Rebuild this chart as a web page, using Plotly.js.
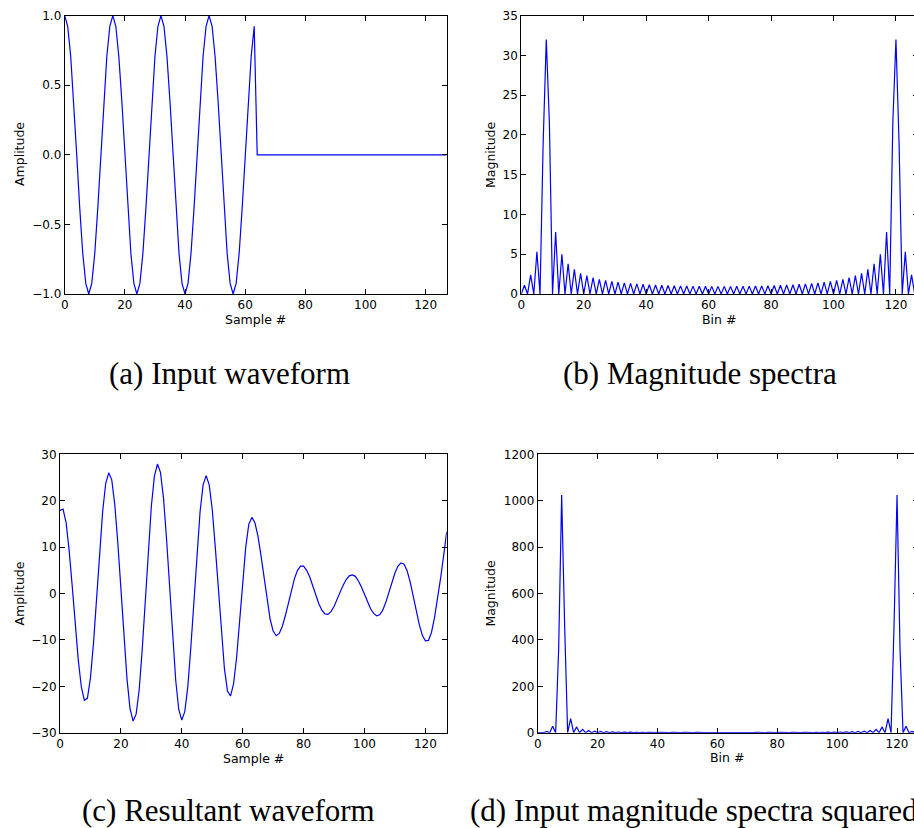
<!DOCTYPE html>
<html>
<head>
<meta charset="utf-8">
<script src="https://cdn.plot.ly/plotly-3.0.1.min.js"></script>
<style>
html,body{margin:0;padding:0;overflow:hidden;background:#fff;}
#chart{width:930px;height:828px;}
</style>
</head>
<body>
<div id="chart"></div>
<script>
// ---- data ----
const sampleIndex = Array.from({length: 128}, (_, i) => i);

const inputWaveform = [
 1, 0.924, 0.707, 0.383, 0, -0.383, -0.707, -0.924, -1, -0.924, -0.707, -0.383, 0, 0.383, 0.707, 0.924,
 1, 0.924, 0.707, 0.383, 0, -0.383, -0.707, -0.924, -1, -0.924, -0.707, -0.383, 0, 0.383, 0.707, 0.924,
 1, 0.924, 0.707, 0.383, 0, -0.383, -0.707, -0.924, -1, -0.924, -0.707, -0.383, 0, 0.383, 0.707, 0.924,
 1, 0.924, 0.707, 0.383, 0, -0.383, -0.707, -0.924, -1, -0.924, -0.707, -0.383, 0, 0.383, 0.707, 0.924,
 0, 0, 0, 0, 0, 0, 0, 0, 0, 0, 0, 0, 0, 0, 0, 0,
 0, 0, 0, 0, 0, 0, 0, 0, 0, 0, 0, 0, 0, 0, 0, 0,
 0, 0, 0, 0, 0, 0, 0, 0, 0, 0, 0, 0, 0, 0, 0, 0,
 0, 0, 0, 0, 0, 0, 0, 0, 0, 0, 0, 0, 0, 0, 0, 0
];

const magnitudeSpectra = [
 0, 1.1, 0, 2.4, 0, 5.3, 0, 19, 32, 21.5, 0, 7.8, 0, 5.0, 0, 3.8,
 0, 3.1, 0, 2.6, 0, 2.3, 0, 2.05, 0, 1.85, 0, 1.7, 0, 1.6, 0, 1.5,
 0, 1.4, 0, 1.33, 0, 1.27, 0, 1.22, 0, 1.17, 0, 1.13, 0, 1.1, 0, 1.07,
 0, 1.04, 0, 1.02, 0, 1.0, 0, 0.99, 0, 0.98, 0, 0.97, 0, 0.96, 0, 0.96,
 0, 0.96, 0, 0.96, 0, 0.97, 0, 0.98, 0, 0.99, 0, 1.0, 0, 1.02, 0, 1.04,
 0, 1.07, 0, 1.1, 0, 1.13, 0, 1.17, 0, 1.22, 0, 1.27, 0, 1.33, 0, 1.4,
 0, 1.5, 0, 1.6, 0, 1.7, 0, 1.85, 0, 2.05, 0, 2.3, 0, 2.6, 0, 3.1,
 0, 3.8, 0, 5.0, 0, 7.8, 0, 21.5, 32, 19, 0, 5.3, 0, 2.4, 0, 1.1
];

const resultantWaveform = [
 17.9, 18.2, 15.3, 9.3, 1.7, -6.7, -14.3, -20.1, -23.0, -22.6, -18.2, -10.7, -1.1, 8.9, 17.6, 23.7,
 26.0, 24.5, 19.1, 10.8, 0.8, -9.4, -18.4, -24.8, -27.5, -26.0, -20.8, -12.1, -1.5, 9.4, 18.8, 25.3,
 27.9, 26.1, 20.5, 11.7, 1.1, -9.6, -18.7, -25.0, -27.3, -25.4, -19.9, -11.3, -1.2, 9.0, 17.6, 23.4,
 25.4, 23.4, 18.1, 10.0, 0.7, -8.6, -16.2, -21.0, -22.1, -19.5, -13.8, -5.9, 2.6, 10.0, 14.9, 16.4,
 15.3, 12.4, 8.2, 3.4, -1.4, -5.5, -8.1, -9.1, -8.6, -7.1, -4.8, -2.1, 0.7, 3.2, 5.0, 5.9,
 5.9, 5.0, 3.6, 1.7, -0.4, -2.2, -3.6, -4.4, -4.5, -3.9, -2.8, -1.4, 0.3, 1.8, 3.0, 3.8,
 4.0, 3.7, 2.7, 1.4, -0.3, -1.9, -3.3, -4.3, -4.8, -4.6, -3.6, -1.9, 0.3, 2.5, 4.4, 5.9,
 6.6, 6.3, 4.9, 2.5, -0.6, -3.8, -6.7, -9.0, -10.2, -10.1, -8.4, -5.2, -1.2, 3.3, 8.2, 13.3
];

const magnitudeSquared = [
 0, 1.21, 0, 5.76, 0, 28.1, 0, 361, 1024, 462, 0, 60.8, 0, 25.0, 0, 14.4,
 0, 9.61, 0, 6.76, 0, 5.29, 0, 4.2, 0, 3.42, 0, 2.89, 0, 2.56, 0, 2.25,
 0, 1.96, 0, 1.77, 0, 1.61, 0, 1.49, 0, 1.37, 0, 1.28, 0, 1.21, 0, 1.14,
 0, 1.08, 0, 1.04, 0, 1.0, 0, 0.98, 0, 0.96, 0, 0.94, 0, 0.92, 0, 0.92,
 0, 0.92, 0, 0.92, 0, 0.94, 0, 0.96, 0, 0.98, 0, 1.0, 0, 1.04, 0, 1.08,
 0, 1.14, 0, 1.21, 0, 1.28, 0, 1.37, 0, 1.49, 0, 1.61, 0, 1.77, 0, 1.96,
 0, 2.25, 0, 2.56, 0, 2.89, 0, 3.42, 0, 4.2, 0, 5.29, 0, 6.76, 0, 9.61,
 0, 14.4, 0, 25.0, 0, 60.8, 0, 462, 1024, 361, 0, 28.1, 0, 5.76, 0, 1.21
];

const xTicks = [0, 20, 40, 60, 80, 100, 120];
const yTicksA = [-1.0, -0.5, 0.0, 0.5, 1.0];
const yTicksB = [0, 5, 10, 15, 20, 25, 30, 35];
const yTicksC = [-30, -20, -10, 0, 10, 20, 30];
const yTicksD = [0, 200, 400, 600, 800, 1000, 1200];

const captions = ["(a) Input waveform", "(b) Magnitude spectra", "(c) Resultant waveform", "(d) Input magnitude spectra squared"];
const xTitles = ["Sample #", "Bin #", "Sample #", "Bin #"];
const yTitles = ["Amplitude", "Magnitude", "Amplitude", "Magnitude"];

// ---- layout helpers ----
const W = 930, H = 828;
const px = v => v / W;
const py = v => 1 - v / H;

const tickFont = {family: "DejaVu Sans, sans-serif", size: 12, color: "#000"};
function xax(domain, anchor) {
  return {domain: domain, anchor: anchor, range: [0, 127], tickvals: xTicks, ticktext: xTicks.map(String),
    ticks: "inside", ticklen: 5, tickcolor: "#000", tickwidth: 1, mirror: "ticks", showline: true,
    linecolor: "#000", linewidth: 1, showgrid: false, zeroline: false, tickfont: tickFont, fixedrange: true};
}
function yax(domain, anchor, range, vals, fmt) {
  return {domain: domain, anchor: anchor, range: range, tickvals: vals, ticktext: vals.map(fmt),
    ticks: "inside", ticklen: 5, tickcolor: "#000", tickwidth: 1, mirror: "ticks", showline: true,
    linecolor: "#000", linewidth: 1, showgrid: false, zeroline: false, tickfont: tickFont, fixedrange: true};
}
const minus = s => s.replace("-", "\u2212");

const line = {color: "#0000ff", width: 1.2};
const traces = [
  {x: sampleIndex, y: inputWaveform, xaxis: "x", yaxis: "y", mode: "lines", line: line, hoverinfo: "skip"},
  {x: sampleIndex, y: magnitudeSpectra, xaxis: "x2", yaxis: "y2", mode: "lines", line: line, hoverinfo: "skip"},
  {x: sampleIndex, y: resultantWaveform, xaxis: "x3", yaxis: "y3", mode: "lines", line: line, hoverinfo: "skip"},
  {x: sampleIndex, y: magnitudeSquared, xaxis: "x4", yaxis: "y4", mode: "lines", line: line, hoverinfo: "skip"}
];

const titleFont = {family: "DejaVu Sans, sans-serif", size: 12.5, color: "#000"};
const capFont = {family: "Liberation Serif, serif", size: 31, color: "#000"};
function ann(text, x, y, font, extra) {
  return Object.assign({text: text, x: px(x), y: py(y), xref: "paper", yref: "paper",
    showarrow: false, font: font, xanchor: "center", yanchor: "middle"}, extra || {});
}

const layout = {
  width: W, height: H,
  margin: {l: 0, r: 0, t: 0, b: 0, pad: 0},
  paper_bgcolor: "#fff", plot_bgcolor: "#fff",
  showlegend: false,
  xaxis: xax([px(64.7), px(446.7)], "y"),
  yaxis: yax([py(294), py(15.7)], "x", [-1, 1], yTicksA, v => minus(v.toFixed(1))),
  xaxis2: xax([px(521.3), px(917.8)], "y2"),
  yaxis2: yax([py(294), py(15.7)], "x2", [0, 35], yTicksB, v => String(v)),
  xaxis3: xax([px(60), px(446.7)], "y3"),
  yaxis3: yax([py(732.7), py(454.3)], "x3", [-30, 30], yTicksC, v => minus(String(v))),
  xaxis4: xax([px(537.7), px(918)], "y4"),
  yaxis4: yax([py(732.7), py(454.3)], "x4", [0, 1200], yTicksD, v => String(v)),
  annotations: [
    ann(yTitles[0], 19.5, 154.5, titleFont, {textangle: -90}),
    ann(yTitles[1], 490.3, 154.7, titleFont, {textangle: -90}),
    ann(yTitles[2], 19.3, 593.3, titleFont, {textangle: -90}),
    ann(yTitles[3], 490.3, 593.3, titleFont, {textangle: -90}),
    ann(xTitles[0], 255.7, 319.5, titleFont),
    ann(xTitles[1], 719.3, 319.5, titleFont),
    ann(xTitles[2], 253.5, 758.3, titleFont),
    ann(xTitles[3], 727.3, 757.7, titleFont),
    ann(captions[0], 229, 373, capFont),
    ann(captions[1], 700, 373, capFont),
    ann(captions[2], 228.5, 810, capFont),
    ann(captions[3], 468, 810, capFont, {xanchor: "left"})
  ]
};

Plotly.newPlot("chart", traces, layout, {displayModeBar: false, staticPlot: true});
</script>
</body>
</html>
